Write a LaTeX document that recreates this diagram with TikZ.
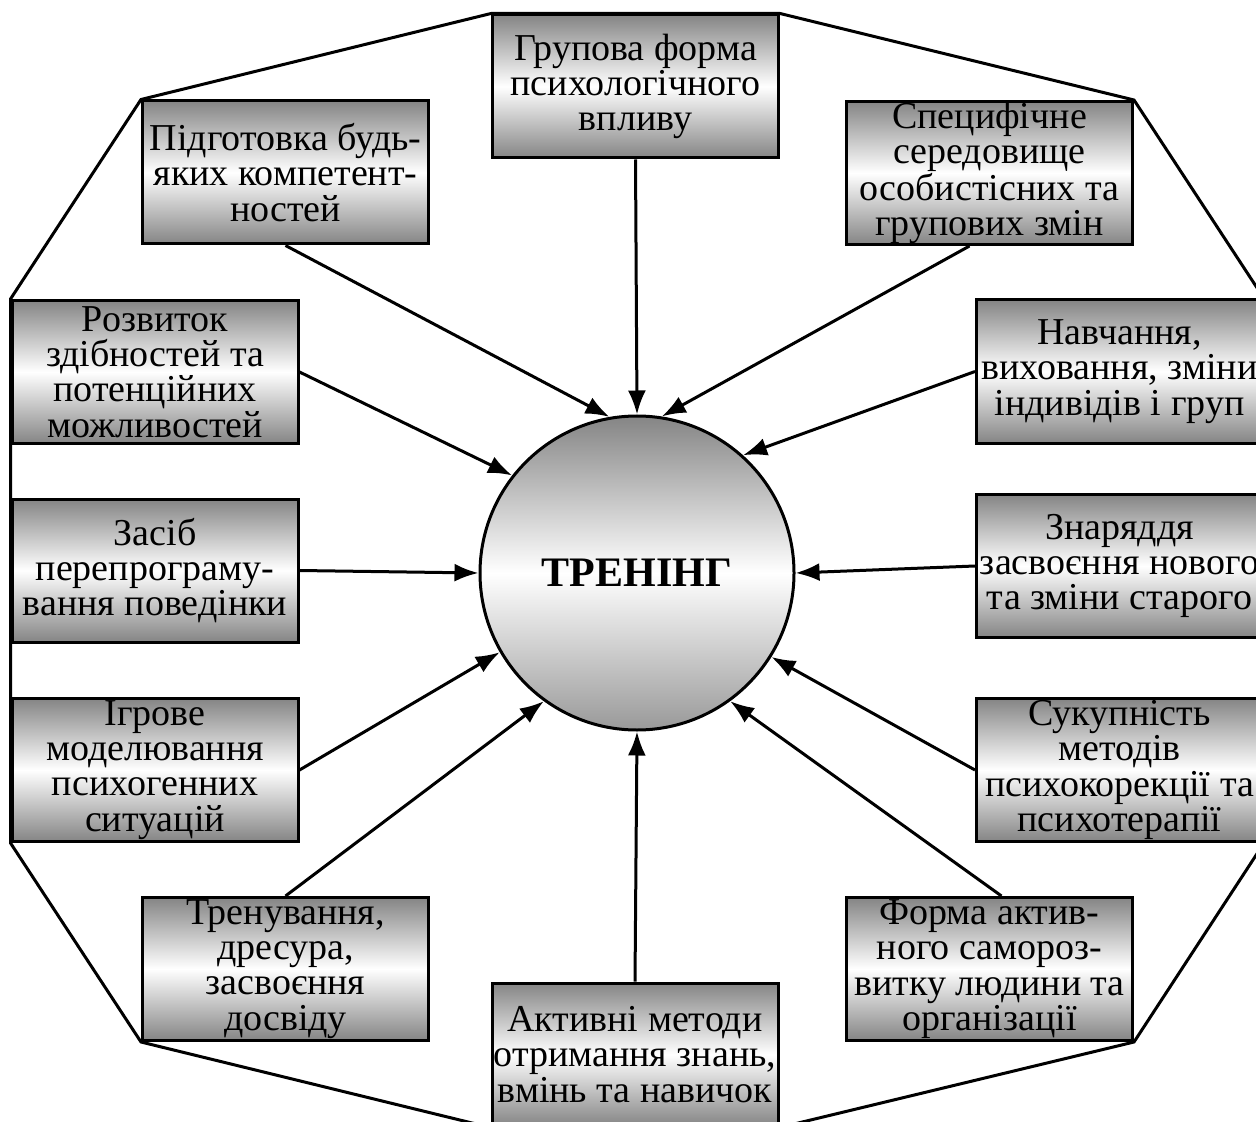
\documentclass[tikz,border=0pt]{standalone}
\usepackage{fontspec}
\setmainfont{Liberation Serif}
\usetikzlibrary{arrows.meta}

\begin{document}
\begin{tikzpicture}[x=0.5pt, y=-0.5pt, >={Latex[length=12pt,width=9pt]},
    line width=1.5pt,
    blok/.style={draw, rectangle, minimum width=143pt, minimum height=71.5pt,
        inner sep=0pt, align=center, top color=black!48, bottom color=black!48,
        middle color=white, font=\fontsize{19}{17.6}\selectfont},
    kolo/.style={draw, circle, minimum size=157pt, top color=black!48,
        bottom color=black!40, middle color=white,
        font=\fontsize{21}{24}\selectfont\bfseries}]
    \useasboundingbox (0,0) rectangle (1256,1122);

    % Центральне коло
    \node[kolo] (trening) at (637,573) {ТРЕНІНГ};

    % Блоки навколо
    \node[blok] (grupova) at (635.5,86.5) {Групова форма\\психологічного\\впливу};
    \node[blok] (pidgot) at (285.5,172.5) {Підготовка будь-\\яких компетент-\\ностей};
    \node[blok] (specyf) at (989.5,173) {Специфічне\\середовище\\особистісних та\\групових змін};
    \node[blok] (rozvyt) at (155,372) {Розвиток\\здібностей та\\потенційних\\можливостей};
    \node[blok] (navch) at (1119.5,371.5) {Навчання,\\виховання, зміни\\індивідів і груп};
    \node[blok] (zasib) at (155,570.5) {Засіб\\перепрограму-\\вання поведінки};
    \node[blok] (znar) at (1119.5,566) {Знаряддя\\засвоєння нового\\та зміни старого};
    \node[blok] (igrove) at (155,770) {Ігрове\\моделювання\\психогенних\\ситуацій};
    \node[blok] (sukup) at (1119.5,770) {Сукупність\\методів\\психокорекції та\\психотерапії};
    \node[blok] (trenuv) at (285.5,969) {Тренування,\\дресура,\\засвоєння\\досвіду};
    \node[blok] (forma) at (989.5,969) {Форма актив-\\ного самороз-\\витку людини та\\організації};
    \node[blok] (aktyv) at (635,1054.5) {Активні методи\\отримання знань,\\вмінь та навичок};

    % Зовнішній контур
    \draw (grupova.north west) -- (pidgot.north west) -- (rozvyt.north west)
        -- (igrove.south west) -- (trenuv.south west) -- (aktyv.south west)
        -- (aktyv.south east) -- (forma.south east) -- (sukup.south east)
        -- (navch.north east) -- (specyf.north east) -- (grupova.north east) -- cycle;

    % Стрілки до центру
    \draw[->] (grupova.south) -- (trening.north);
    \draw[->] (pidgot.south) -- (trening.100);
    \draw[->] ([xshift=-10pt]specyf.south) -- (trening.81);
    \draw[->] (rozvyt.east) -- (trening.142);
    \draw[->] (navch.west) -- (trening.48);
    \draw[->] (zasib.east) -- (trening.west);
    \draw[->] (znar.west) -- (trening.east);
    \draw[->] (igrove.east) -- (trening.210);
    \draw[->] (sukup.west) -- (trening.328);
    \draw[->] (trenuv.north) -- (trening.234);
    \draw[->] ([xshift=6pt]forma.north) -- (trening.306);
    \draw[->] (aktyv.north) -- (trening.south);
\end{tikzpicture}
\end{document}
